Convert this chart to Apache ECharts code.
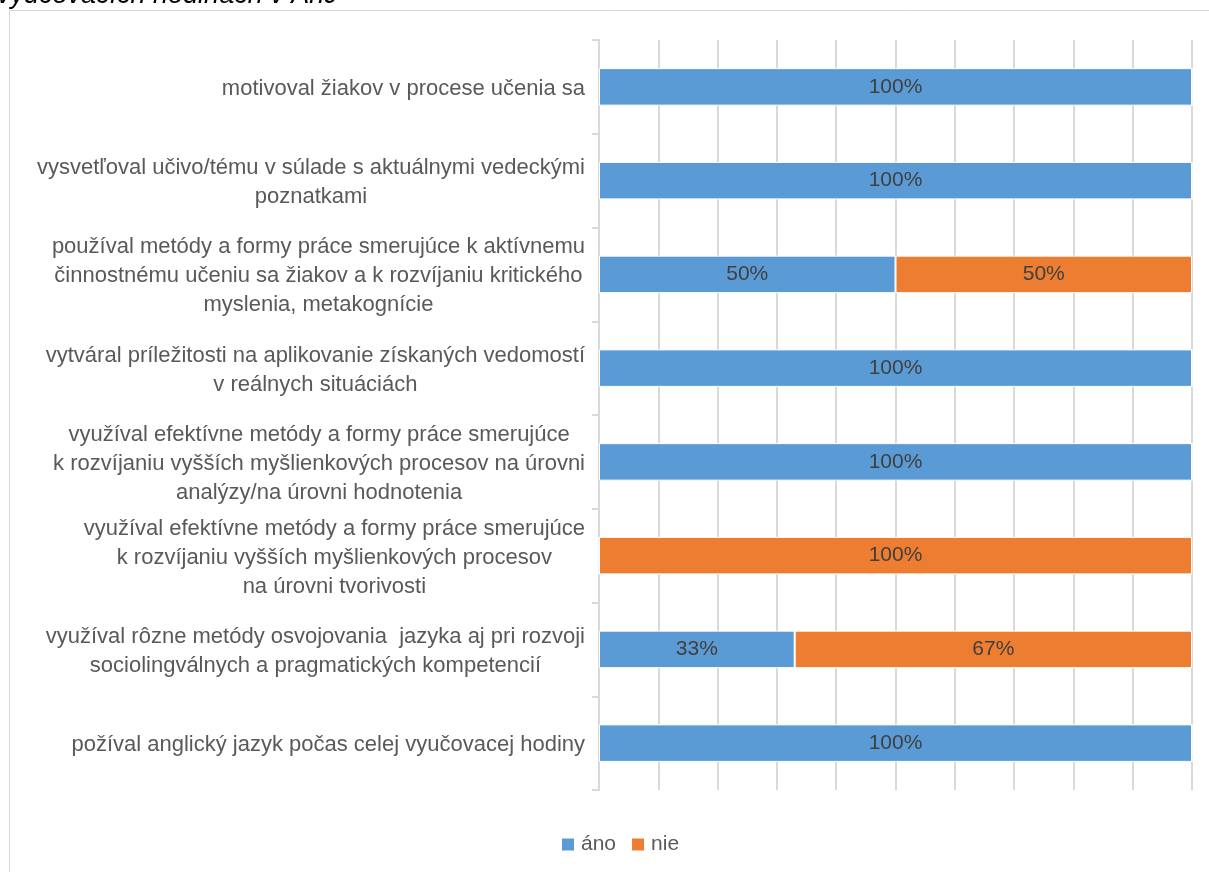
<!DOCTYPE html>
<html>
<head>
<meta charset="utf-8">
<script src="https://cdn.jsdelivr.net/npm/echarts@6/dist/echarts.min.js"></script>
<style>
html,body{margin:0;padding:0;background:#fff;}
#chart{width:1209px;height:872px;}
</style>
</head>
<body>
<div id="chart"></div>
<script>
const categories = [
  "motivoval žiakov v procese učenia sa",
  "vysvetľoval učivo/tému v súlade s aktuálnymi vedeckými\npoznatkami",
  "používal metódy a formy práce smerujúce k aktívnemu\nčinnostnému učeniu sa žiakov a k rozvíjaniu kritického\nmyslenia, metakognície",
  "vytváral príležitosti na aplikovanie získaných vedomostí\nv reálnych situáciách",
  "využíval efektívne metódy a formy práce smerujúce\nk rozvíjaniu vyšších myšlienkových procesov na úrovni\nanalýzy/na úrovni hodnotenia",
  "využíval efektívne metódy a formy práce smerujúce\nk rozvíjaniu vyšších myšlienkových procesov\nna úrovni tvorivosti",
  "využíval rôzne metódy osvojovania  jazyka aj pri rozvoji\nsociolingválnych a pragmatických kompetencií",
  "požíval anglický jazyk počas celej vyučovacej hodiny"
];
const seriesNames = ["áno", "nie"];
const anoValues = [100, 100, 50, 100, 100, 0, 33, 100];
const nieValues = [0, 0, 50, 0, 0, 100, 67, 0];
const titleText = "vyučovacích hodinách v AnJ";

const FONT = "Liberation Sans";
const chart = echarts.init(document.getElementById('chart'));

function mkSeries(name, data, color) {
  return {
    name: name,
    type: 'bar',
    stack: 'total',
    data: data,
    barCategoryGap: '60%',
    itemStyle: { color: color, borderColor: '#ffffff', borderWidth: 1 },
    label: {
      show: true,
      position: 'inside',
      fontFamily: FONT,
      fontSize: 21,
      color: '#404040',
      formatter: p => p.value > 0 ? p.value + '%' : ''
    }
  };
}

chart.setOption({
  animation: false,
  textStyle: { fontFamily: FONT },
  graphic: [
    {
      type: 'rect',
      shape: { x: 9.5, y: 10.5, width: 1400, height: 1000 },
      style: { fill: null, stroke: '#d9d9d9', lineWidth: 1 },
      silent: true
    },
    {
      type: 'text',
      x: -3,
      y: 9,
      style: {
        text: titleText,
        font: 'italic 27px "' + FONT + '"',
        fill: '#000000',
        verticalAlign: 'bottom'
      }
    }
  ],
  legend: {
    data: seriesNames,
    left: 555,
    top: 829,
    icon: 'rect',
    itemWidth: 14,
    itemHeight: 14,
    itemGap: 14,
    textStyle: { fontFamily: FONT, fontSize: 21, color: '#595959', padding: [0, 0, 0, 1] }
  },
  grid: { left: 599, right: 17, top: 40, bottom: 82, containLabel: false },
  xAxis: {
    type: 'value',
    min: 0,
    max: 100,
    interval: 10,
    axisLabel: { show: false },
    axisLine: { show: false },
    axisTick: { show: false },
    splitLine: { show: true, lineStyle: { color: '#d9d9d9', width: 2 } }
  },
  yAxis: {
    type: 'category',
    inverse: true,
    data: categories,
    axisLine: { show: true, lineStyle: { color: '#d9d9d9', width: 2 } },
    axisTick: { show: true, length: 7, lineStyle: { color: '#d9d9d9', width: 2 } },
    splitLine: { show: false },
    axisLabel: {
      margin: 14,
      align: 'right',
      fontFamily: FONT,
      fontSize: 22,
      color: '#595959',
      lineHeight: 29,
      padding: [4, 0, 0, 0],
      formatter: v => v.split('\n').map(l => '{c|' + l + '}').join('\n'),
      rich: { c: { align: 'center', fontFamily: FONT, fontSize: 22, color: '#595959', lineHeight: 29 } }
    }
  },
  series: [
    mkSeries(seriesNames[0], anoValues, '#5b9bd5'),
    mkSeries(seriesNames[1], nieValues, '#ed7d31')
  ]
});
</script>
</body>
</html>
